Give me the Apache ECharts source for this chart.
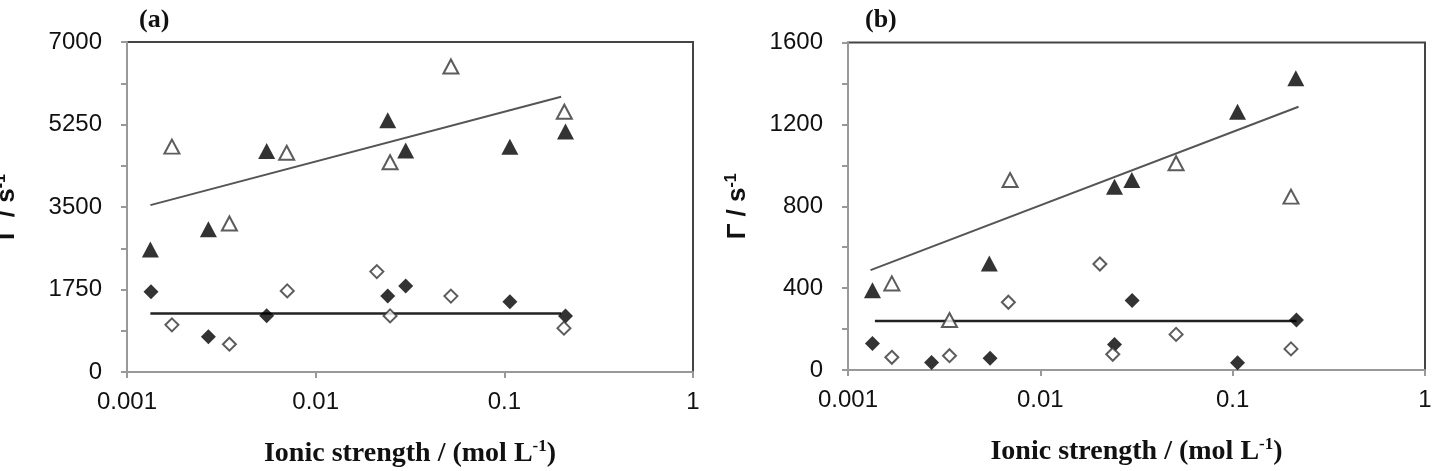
<!DOCTYPE html>
<html>
<head>
<meta charset="utf-8">
<script src="https://cdn.jsdelivr.net/npm/echarts@6/dist/echarts.min.js"></script>
<style>html,body{margin:0;padding:0;background:#fff;}#c{width:1434px;height:471px;}</style>
</head>
<body>
<div id="c"></div>
<script>
// Panel (a)
const aX_filledTri = [0.00133, 0.0027, 0.0055, 0.0241, 0.030, 0.107, 0.211];
const aY_filledTri = [2600, 3030, 4690, 5340, 4700, 4780, 5100];
const aX_openTri = [0.00173, 0.00349, 0.00702, 0.0248, 0.0521, 0.208];
const aY_openTri = [4780, 3150, 4650, 4450, 6480, 5520];
const aX_filledDia = [0.00134, 0.0027, 0.0055, 0.0241, 0.030, 0.107, 0.211];
const aY_filledDia = [1700, 750, 1195, 1610, 1825, 1490, 1190];
const aX_openDia = [0.00173, 0.00349, 0.00707, 0.0211, 0.0248, 0.0521, 0.207];
const aY_openDia = [1000, 590, 1720, 2130, 1190, 1610, 930];
const aTrendUpperX = [0.00133, 0.2];
const aTrendUpperY = [3540, 5840];
const aTrendLowerX = [0.00133, 0.2];
const aTrendLowerY = [1240, 1240];

// Panel (b)
const bX_filledTri = [0.00134, 0.00543, 0.0243, 0.0299, 0.106, 0.213];
const bY_filledTri = [390, 520, 895, 928, 1262, 1425];
const bX_openTri = [0.00169, 0.00337, 0.00696, 0.0508, 0.201];
const bY_openTri = [423, 244, 928, 1010, 847];
const bX_filledDia = [0.00134, 0.00272, 0.00548, 0.0243, 0.0300, 0.106, 0.2145];
const bY_filledDia = [130, 37, 57, 125, 339, 36, 244];
const bX_openDia = [0.00169, 0.00337, 0.00682, 0.0204, 0.0238, 0.0508, 0.201];
const bY_openDia = [62, 70, 331, 518, 77, 174, 103];
const bTrendUpperX = [0.00131, 0.22];
const bTrendUpperY = [488, 1286];
const bTrendLowerX = [0.00138, 0.215];
const bTrendLowerY = [240, 240];

const xTickLabels = {0.001: '0.001', 0.01: '0.01', 0.1: '0.1', 1: '1'};
const panelTitles = ['(a)', '(b)'];
const xAxisName = 'Ionic strength / (mol L{sup|-1})';
const yAxisName = 'Γ / s{sup|-1}';

function pts(xs, ys) { return xs.map((x, i) => [x, ys[i]]); }

const chart = echarts.init(document.getElementById('c'), null, {renderer: 'canvas'});

const labelFont = {fontFamily: 'Liberation Sans', fontSize: 24, color: '#111'};

function xAxisCfg(gi) {
  return {
    type: 'log', logBase: 10, min: 0.001, max: 1, gridIndex: gi,
    axisLine: {show: true, lineStyle: {color: '#999', width: 2}},
    axisTick: {show: true, length: 6, lineStyle: {color: '#999', width: 2}},
    minorTick: {show: false},
    splitLine: {show: false},
    axisLabel: Object.assign({margin: 18, formatter: v => {
      const k = Object.keys(xTickLabels).find(t => Math.abs(Math.log10(+t) - Math.log10(v)) < 1e-6);
      return k !== undefined ? xTickLabels[k] : '';
    }}, labelFont),
    name: xAxisName, nameLocation: 'middle', nameGap: 66,
    nameTextStyle: {fontFamily: 'Liberation Serif', fontWeight: 'bold', fontSize: 28, color: '#111',
      rich: {sup: {fontFamily: 'Liberation Serif', fontWeight: 'bold', fontSize: 17, verticalAlign: 'top', padding: [0, 0, 14, 0], color: '#111'}}}
  };
}
function yAxisCfg(gi, max, interval, labelEvery, gap) {
  return {
    type: 'value', min: 0, max: max, interval: interval, gridIndex: gi,
    axisLine: {show: true, lineStyle: {color: '#999', width: 2}},
    axisTick: {show: true, length: 6, lineStyle: {color: '#999', width: 2}},
    splitLine: {show: false},
    axisLabel: Object.assign({margin: 25, formatter: v => (v % labelEvery === 0 ? String(v) : '')}, labelFont),
    name: yAxisName, nameLocation: 'middle', nameGap: gap, nameRotate: 90,
    nameTextStyle: {fontFamily: 'Liberation Sans', fontWeight: 'bold', fontSize: 26, color: '#111',
      rich: {sup: {fontFamily: 'Liberation Sans', fontWeight: 'bold', fontSize: 16, verticalAlign: 'top', padding: [0, 0, 12, 0], color: '#111'}}}
  };
}

function scatter(gi, data, symbol, size, filled) {
  return {
    type: 'scatter', xAxisIndex: gi, yAxisIndex: gi, data: data,
    symbol: symbol, symbolSize: size,
    itemStyle: filled ? {color: '#000'} : {color: '#fff', borderColor: '#333', borderWidth: 2},
    z: 3
  };
}
function trend(gi, data, color, width) {
  return {
    type: 'line', xAxisIndex: gi, yAxisIndex: gi, data: data,
    showSymbol: false, symbol: 'none', lineStyle: {color: color, width: width}, z: 2
  };
}

chart.setOption({
  animation: false,
  backgroundColor: '#fff',
  title: [
    {text: panelTitles[0], left: 134, top: 2, textStyle: {fontFamily: 'Liberation Serif', fontWeight: 'bold', fontSize: 26, color: '#111'}},
    {text: panelTitles[1], left: 860, top: 2, textStyle: {fontFamily: 'Liberation Serif', fontWeight: 'bold', fontSize: 26, color: '#111'}}
  ],
  grid: [
    {left: 127, top: 42, width: 566, height: 330, show: true, borderColor: '#444', borderWidth: 2, backgroundColor: 'transparent', containLabel: false, outerBoundsMode: 'none'},
    {left: 848, top: 42.5, width: 577, height: 327.5, show: true, borderColor: '#444', borderWidth: 2, backgroundColor: 'transparent', containLabel: false, outerBoundsMode: 'none'}
  ],
  xAxis: [xAxisCfg(0), xAxisCfg(1)],
  yAxis: [yAxisCfg(0, 7000, 875, 1750, 106), yAxisCfg(1, 1600, 200, 400, 96)],
  series: [
    trend(0, pts(aTrendUpperX, aTrendUpperY), '#555', 2),
    trend(0, pts(aTrendLowerX, aTrendLowerY), '#222', 2.5),
    scatter(0, pts(aX_filledTri, aY_filledTri), 'triangle', [17, 16], true),
    scatter(0, pts(aX_openTri, aY_openTri), 'triangle', [15, 14], false),
    scatter(0, pts(aX_filledDia, aY_filledDia), 'diamond', [15, 15], true),
    scatter(0, pts(aX_openDia, aY_openDia), 'diamond', [13, 13], false),
    trend(1, pts(bTrendUpperX, bTrendUpperY), '#555', 2),
    trend(1, pts(bTrendLowerX, bTrendLowerY), '#222', 2.5),
    scatter(1, pts(bX_filledTri, bY_filledTri), 'triangle', [17, 16], true),
    scatter(1, pts(bX_openTri, bY_openTri), 'triangle', [15, 14], false),
    scatter(1, pts(bX_filledDia, bY_filledDia), 'diamond', [15, 15], true),
    scatter(1, pts(bX_openDia, bY_openDia), 'diamond', [13, 13], false)
  ]
});
</script>
</body>
</html>
